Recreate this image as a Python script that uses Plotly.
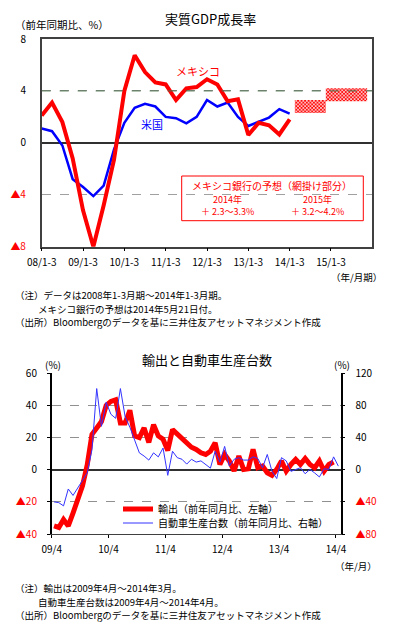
import plotly.graph_objects as go

# ---------------- Top chart data ----------------
gdp_tick_labels = ["08/1-3", "09/1-3", "10/1-3", "11/1-3", "12/1-3", "13/1-3", "14/1-3", "15/1-3"]
mexico_gdp = [2.1, 3.1, 1.6, -1.2, -5.2, -8.0, -4.8, -1.3, 4.0, 6.75, 5.45, 4.65, 4.5,
              3.3, 4.2, 4.3, 4.9, 4.5, 3.2, 3.35, 0.6, 1.55, 1.35, 0.65, 1.8]
us_gdp = [1.1, 0.9, -0.2, -2.8, -3.4, -4.1, -3.3, -0.5, 1.55, 2.7, 3.0, 2.8, 2.0,
          1.9, 1.5, 2.0, 3.3, 2.8, 3.1, 2.0, 1.3, 1.6, 1.95, 2.6, 2.25]
forecast_years = ["2014年", "2015年"]
forecast_low = [2.3, 3.2]
forecast_high = [3.3, 4.2]
forecast_first_q = [25, 28]   # quarter index (0 = 2008 1-3)
forecast_last_q = [27, 31]

# ---------------- Bottom chart data ----------------
trade_tick_labels = ["09/4", "10/4", "11/4", "12/4", "13/4", "14/4"]
exports_yoy = [-35, -36, -31, -35, -27, -19, -10, 3, 22, 26,
               30, 40, 42.5, 43.5, 29, 29, 37, 21, 20, 26,
               17, 28, 21, 19, 12, 25, 22, 20, 17, 14,
               12.6, 10.5, 9.5, 11.5, 16.8, 3.3, 9.5, 5.4, -0.8, 8.5,
               0.2, 0.6, 12.6, 1.2, 2.3, -1.9, -3.5, 0.2, 5.4, -0.8,
               3.3, 6.4, 3.3, 7, 3.3, 1.2, 5.4, -0.8, 3.3, 4.8]
auto_production_yoy = [-40, -41, -45, -24, -32, -23, -14, -4, 25, 101,
                       54, 84, 69, 64, 101, 66, 53, 37, 21, 17,
                       12, 21, 16, 27, -7, 23, 15, 13, 7, 13,
                       9.5, 11, 7, 2, 23, 9.5, 29, 4.5, 13, 15,
                       12, 12, 16, 14, 2.5, 19, -2, -11, 15, 11,
                       -2, 0.4, 2.5, -5, 0.4, -4, -9, 1.2, 0.4, 16, 4.5]

W, H = 396, 625
FONT = "Noto Sans CJK JP"
RED = "#ff0000"
BLUE = "#0000ff"

def px_x(v):
    return v / W

def px_y(v):
    return 1 - v / H

fig = go.Figure()

# ---- top traces
q_idx = list(range(len(mexico_gdp)))
for k in range(len(forecast_years)):
    x0 = forecast_first_q[k] - 0.5
    x1 = forecast_last_q[k] + 0.5
    fig.add_trace(go.Scatter(
        x=[x0, x1, x1, x0, x0],
        y=[forecast_low[k], forecast_low[k], forecast_high[k], forecast_high[k], forecast_low[k]],
        fill="toself", mode="lines", line=dict(width=0, color=RED),
        fillcolor="rgba(0,0,0,0)",
        fillpattern=dict(shape="x", fgcolor=RED, bgcolor="white", size=2.5, solidity=0.6),
        showlegend=False, hoverinfo="skip", xaxis="x", yaxis="y"))
fig.add_trace(go.Scatter(x=q_idx, y=us_gdp, mode="lines", line=dict(color=BLUE, width=2.5),
                         showlegend=False, xaxis="x", yaxis="y"))
fig.add_trace(go.Scatter(x=q_idx, y=mexico_gdp, mode="lines", line=dict(color=RED, width=4),
                         showlegend=False, xaxis="x", yaxis="y"))

# ---- bottom traces
m_auto = [i + 0.5 for i in range(len(auto_production_yoy))]
m_exp = [i + 0.5 for i in range(len(exports_yoy))]
fig.add_trace(go.Scatter(x=m_auto, y=auto_production_yoy, mode="lines", line=dict(color="#3333ff", width=1),
                         name="自動車生産台数（前年同月比、右軸）", xaxis="x2", yaxis="y3",
                         legend="legend2"))
fig.add_trace(go.Scatter(x=m_exp, y=exports_yoy, mode="lines", line=dict(color=RED, width=5),
                         name="輸出（前年同月比、左軸）", xaxis="x2", yaxis="y2", legend="legend"))

def red_tri(s):
    return "<span style='color:#ff0000'>▲" + s + "</span>"

tick_font = dict(family=FONT, size=10, color="black")
leg_common = dict(xanchor="left", yanchor="middle", bgcolor="rgba(0,0,0,0)",
                  font=dict(family=FONT, size=10), itemwidth=30)

fig.update_layout(
    template="none",
    width=W, height=H, margin=dict(l=0, r=0, t=0, b=0, autoexpand=False),
    paper_bgcolor="white", plot_bgcolor="white",
    font=dict(family=FONT, size=10, color="black"),
    xaxis=dict(domain=[px_x(41.7), px_x(372.3)], range=[0, 32], anchor="y", automargin=False,
               tickvals=[4 * k for k in range(len(gdp_tick_labels))], ticktext=gdp_tick_labels,
               ticks="outside", ticklen=3, tickcolor="black", showgrid=False, zeroline=False,
               showline=True, linecolor="#404040", linewidth=1.5, mirror=True,
               tickfont=tick_font, ticklabelstandoff=3),
    yaxis=dict(domain=[px_y(246.7), px_y(39)], range=[-8, 8], anchor="x", automargin=False,
               tickvals=[-8, -4, 0, 4, 8], ticktext=[red_tri("8"), red_tri("4"), "0", "4", "8"],
               ticks="", showgrid=True, gridcolor="#a0a0a0", griddash="dash", gridwidth=1,
               zeroline=True, zerolinecolor="#303030", zerolinewidth=1.5,
               showline=True, linecolor="#404040", linewidth=1.5, mirror=True,
               tickfont=tick_font, ticklabelstandoff=12),
    xaxis2=dict(domain=[px_x(51.7), px_x(340.7)], range=[0, 61], anchor="y2", automargin=False,
                tickvals=[12 * k for k in range(len(trade_tick_labels))], ticktext=trade_tick_labels,
                ticks="outside", ticklen=3, tickcolor="black", showgrid=False, zeroline=False,
                showline=True, linecolor="#404040", linewidth=1, mirror=False,
                tickfont=tick_font, ticklabelstandoff=3),
    yaxis2=dict(domain=[px_y(534), px_y(373.3)], range=[-40, 60], anchor="x2", automargin=False,
                tickvals=[-40, -20, 0, 20, 40, 60],
                ticktext=[red_tri("40"), red_tri("20"), "0", "20", "40", "60"],
                ticks="outside", ticklen=3, tickcolor="black",
                showgrid=True, gridcolor="#909090", griddash="dash", gridwidth=1,
                zeroline=True, zerolinecolor="#303030", zerolinewidth=1.5,
                showline=True, linecolor="black", linewidth=1.5,
                tickfont=tick_font, ticklabelstandoff=8),
    yaxis3=dict(range=[-80, 120], overlaying="y2", side="right", anchor="x2", automargin=False,
                tickvals=[-80, -40, 0, 40, 80, 120],
                ticktext=[red_tri("80"), red_tri("40"), "0", "40", "80", "120"],
                ticks="outside", ticklen=3, tickcolor="black", showgrid=False, zeroline=False,
                showline=True, linecolor="black", linewidth=1.5,
                tickfont=tick_font, ticklabelstandoff=8),
    legend=dict(x=px_x(118), y=px_y(509), **leg_common),
    legend2=dict(x=px_x(118), y=px_y(523), **leg_common),
)

# dark green dashed reference line at 4 (top chart)
fig.add_shape(type="line", xref="x", yref="y", x0=0, x1=32, y0=4, y1=4,
              line=dict(color="#4a6e4a", width=1, dash="dash"))

# forecast note box
fig.add_shape(type="rect", xref="paper", yref="paper",
              x0=px_x(181.7), x1=px_x(363.3), y0=px_y(220.7), y1=px_y(176),
              line=dict(color=RED, width=1), fillcolor="white", layer="below")

def ann(text, x, y, size=10, color="black", xanchor="center", yanchor="middle", align="center"):
    fig.add_annotation(text=text, x=px_x(x), y=px_y(y), xref="paper", yref="paper",
                       showarrow=False, xanchor=xanchor, yanchor=yanchor, align=align,
                       font=dict(family=FONT, size=size, color=color))

ann("実質GDP成長率", 210, 18.5, size=13)
ann("（前年同期比、%）", 62, 24.5, size=10.5)
ann("メキシコ", 198, 70.5, size=11, color=RED)
ann("米国", 152, 124, size=11, color=BLUE)
ann("メキシコ銀行の予想（網掛け部分）", 272, 185, color=RED)
for k in range(len(forecast_years)):
    xc = [227, 317][k]
    ann(forecast_years[k], xc, 199, size=9, color=RED)
    ann("＋ %.1f～%.1f%%" % (forecast_low[k], forecast_high[k]), xc, 212, size=9, color=RED)
ann("（年/月期）", 356, 276.5, size=9.5)
ann("（注）データは2008年1-3月期～2014年1-3月期。", 13, 295, size=9.5, xanchor="left")
ann("メキシコ銀行の予想は2014年5月21日付。", 36, 308.5, size=9.5, xanchor="left")
ann("（出所）Bloombergのデータを基に三井住友アセットマネジメント作成", 13, 322, size=9.5, xanchor="left")

ann("輸出と自動車生産台数", 207, 359.5, size=13)
ann("(%)", 53, 364)
ann("(%)", 342, 364)
ann("（年/月）", 356, 566, size=9.5)
ann("（注）輸出は2009年4月～2014年3月。", 13, 588, size=9.5, xanchor="left")
ann("自動車生産台数は2009年4月～2014年4月。", 36, 601.5, size=9.5, xanchor="left")
ann("（出所）Bloombergのデータを基に三井住友アセットマネジメント作成", 13, 615, size=9.5, xanchor="left")

fig.write_html("out.html", config={"displayModeBar": False},
               post_script="document.body.style.margin='0';")
